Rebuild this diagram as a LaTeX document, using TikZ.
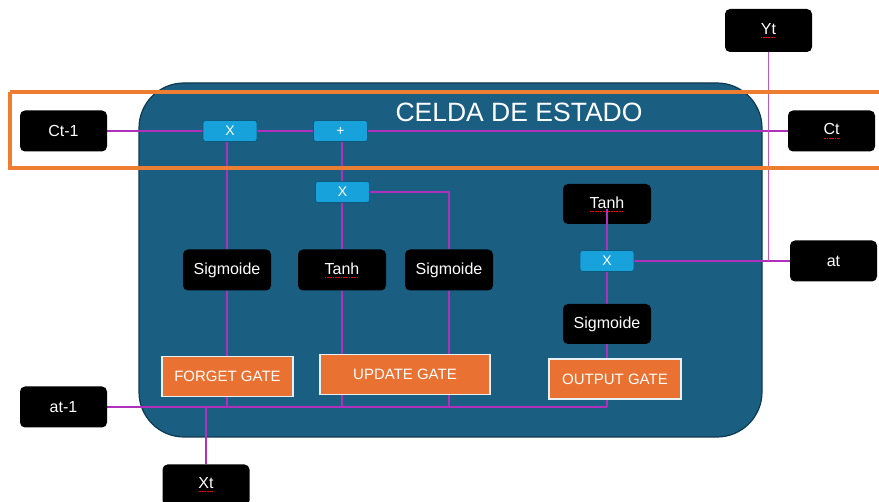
\documentclass[tikz,border=0pt]{standalone}
\usepackage{fontspec}
\setmainfont{Liberation Sans}
\usetikzlibrary{calc}
\definecolor{cellblue}{HTML}{1A5E82}
\definecolor{celledge}{HTML}{0E3A50}
\definecolor{opblue}{HTML}{17A2DC}
\definecolor{opedge}{HTML}{0D5A7C}
\definecolor{frameorange}{HTML}{ED7D31}
\definecolor{gateorange}{HTML}{E97132}
\definecolor{gateedge}{HTML}{E6F0F5}
\definecolor{wire}{HTML}{B030BE}
\definecolor{wirelight}{HTML}{C055C8}
\pgfdeclarelayer{bg}
\pgfdeclarelayer{wires}
\pgfsetlayers{bg,wires,main}
% word with a dotted red spell-check underline
\newcommand\spellmark[1]{\sbox0{#1}\leavevmode\rlap{\usebox0}%
  \raisebox{-3.5pt}{\hbox to \wd0{\color{red}\leaders\hbox to 1.6pt{\hss\rule{1pt}{0.8pt}\hss}\hfil}}}
\tikzset{
  blk/.style={fill=black, rounded corners=5pt, text=white, minimum width=87pt,
    minimum height=41pt, inner sep=0pt, font=\fontsize{16}{18}\selectfont},
  op/.style={fill=opblue, draw=opedge, line width=0.8pt, rounded corners=2.5pt,
    text=white, minimum width=54pt, minimum height=21pt, inner sep=0pt,
    font=\fontsize{14}{16}\selectfont},
  gate/.style={fill=gateorange, draw=gateedge, line width=1.8pt, text=white,
    minimum height=40pt, inner sep=0pt, font=\fontsize{15}{17}\selectfont},
  wireline/.style={draw=wire, line width=1.6pt},
}
\begin{document}
\begin{tikzpicture}[x=1pt, y=-1pt]
\useasboundingbox (0,0) rectangle (879,502);

% the LSTM cell body on a white page
\begin{pgfonlayer}{bg}
  \fill[white] (0,0) rectangle (879,502);
  \draw[fill=cellblue, draw=celledge, line width=1.2pt, rounded corners=45pt]
    (139,83) rectangle (762,437);
\end{pgfonlayer}

% inputs and outputs
\node[blk] (ct1) at (63.5,131) {Ct-1};
\node[blk] (ct)  at (831.5,131) {\spellmark{Ct}};
\node[blk, minimum height=43pt] (yt) at (768.5,30.5) {\spellmark{Yt}};
\node[blk] (at)  at (833.5,261) {at};
\node[blk] (a1)  at (63.5,407) {at-1};
\node[blk] (xt)  at (206,485) {\spellmark{Xt}};

% pointwise operations
\node[op] (mf) at (230,131) {X};
\node[op] (pl) at (340.5,131) {+};
\node[op] (mu) at (342.5,192) {X};
\node[op] (mo) at (607,261) {X};

% activations
\node[blk, minimum width=88pt] (sf)  at (227,270) {Sigmoide};
\node[blk, minimum width=88pt] (th)  at (342,270) {\spellmark{Tanh}};
\node[blk, minimum width=88pt] (su)  at (449,270) {Sigmoide};
\node[blk, minimum width=88pt, minimum height=40pt] (tho) at (607,204) {\spellmark{Tanh}};
\node[blk, minimum width=88pt, minimum height=40pt] (so)  at (607,324) {Sigmoide};

% gates
\node[gate, minimum width=131pt] (fg) at (227.5,376.5) {FORGET GATE};
\node[gate, minimum width=170pt] (ug) at (405,374.5) {UPDATE GATE};
\node[gate, minimum width=132pt] (og) at (615,379) {OUTPUT GATE};

\node[text=white, font=\fontsize{26.5}{30}\selectfont] (title) at (519,112) {CELDA DE ESTADO};

% connections
\begin{pgfonlayer}{wires}
  % cell state line
  \draw[wireline] (ct1.east) -- (mf.west);
  \draw[wireline] (mf.east) -- (pl.west);
  \draw[wireline] (pl.east) -- (ct.west);
  % forget path
  \draw[wireline] (sf.north |- mf.south) -- (sf.north);
  \draw[wireline] (sf.south) -- (sf.south |- fg.north);
  \draw[wireline] (sf.south |- fg.south) -- (sf.south |- a1);
  % update path
  \draw[wireline] (pl.south -| th) -- (th |- mu.north);
  \draw[wireline] (th |- mu.south) -- (th.north);
  \draw[wireline] (th.south) -- (th.south |- ug.north);
  \draw[wireline] (th.south |- ug.south) -- (th.south |- a1);
  \draw[wireline] (mu.east) -| (su.north);
  \draw[wireline] (su.south) -- (su.south |- ug.north);
  \draw[wireline] (su.south |- ug.south) -- (su.south |- a1);
  % output path
  \draw[wireline] (mo.south) -- (so.north);
  \draw[wireline] (so.south) -- (so.south |- og.north);
  \draw[wireline] (so.south |- og.south) -- (so.south |- a1);
  \draw[wireline] (mo.east) -- (at.west);
  \draw[draw=wirelight, line width=1.6pt] (yt.south) -- (yt.south |- at);
  % hidden state and input bus
  \draw[wireline] (a1.east) -- (so.south |- a1);
  \draw[wireline] (xt.north) -- (xt.north |- a1);
\end{pgfonlayer}
\draw[wireline] ($(tho.center)+(0,5)$) -- (mo.north);

% cell state frame
\draw[frameorange, line width=3.5pt] (10,92) -- (885,92) (10,92) -- (10,168) -- (885,168);
\end{tikzpicture}
\end{document}
